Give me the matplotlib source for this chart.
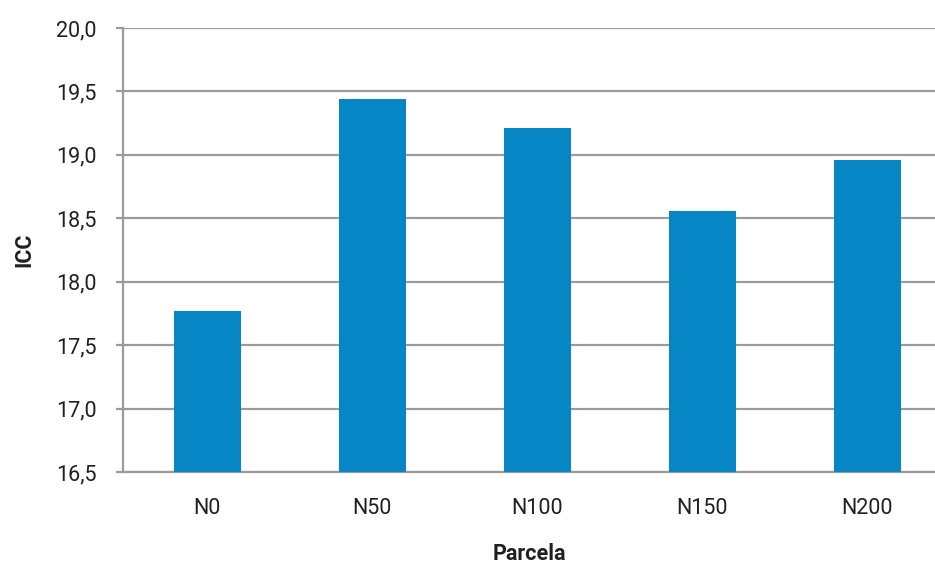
import matplotlib.pyplot as plt
from matplotlib.ticker import FuncFormatter, MultipleLocator

plt.rcParams['font.family'] = ['Roboto', 'DejaVu Sans']

parcelas = ["N0", "N50", "N100", "N150", "N200"]
icc = [17.77, 19.44, 19.21, 18.56, 18.96]

bar_color = "#0686C4"
grid_color = "#9B9B9D"
text_color = "#231F20"

fig = plt.figure(figsize=(9.35, 5.65), dpi=100)
ax = fig.add_axes([123 / 935, 1 - 472 / 565, 1 - 123 / 935, (472 - 28) / 565])

ax.bar(range(len(parcelas)), icc, width=0.406, color=bar_color, zorder=3)

ax.set_ylim(16.5, 20.0)
ax.set_xlim(-0.512, 4.412)
ax.yaxis.set_major_locator(MultipleLocator(0.5))
ax.yaxis.set_major_formatter(FuncFormatter(lambda v, p: f"{v:.1f}".replace(".", ",")))
ax.set_xticks(range(len(parcelas)))
ax.set_xticklabels(parcelas)

ax.grid(axis="y", color=grid_color, linewidth=1.6, zorder=0)
for side in ("top", "right"):
    ax.spines[side].set_visible(False)
for side in ("left", "bottom"):
    ax.spines[side].set_color(grid_color)
    ax.spines[side].set_linewidth(1.6)

ax.tick_params(axis="y", length=5, width=1.6, color=grid_color, pad=14,
               labelsize=15.5, labelcolor=text_color)
ax.tick_params(axis="x", length=0, pad=19, labelsize=15.5, labelcolor=text_color)

ax.set_xlabel("Parcela", fontsize=15.5, fontweight="bold", color=text_color)
ax.set_ylabel("ICC", fontsize=15.5, fontweight="bold", color=text_color)
ax.xaxis.set_label_coords(0.5, -0.16)
ax.yaxis.set_label_coords(-0.108, 0.5)

fig.savefig("out.png", dpi=100)
